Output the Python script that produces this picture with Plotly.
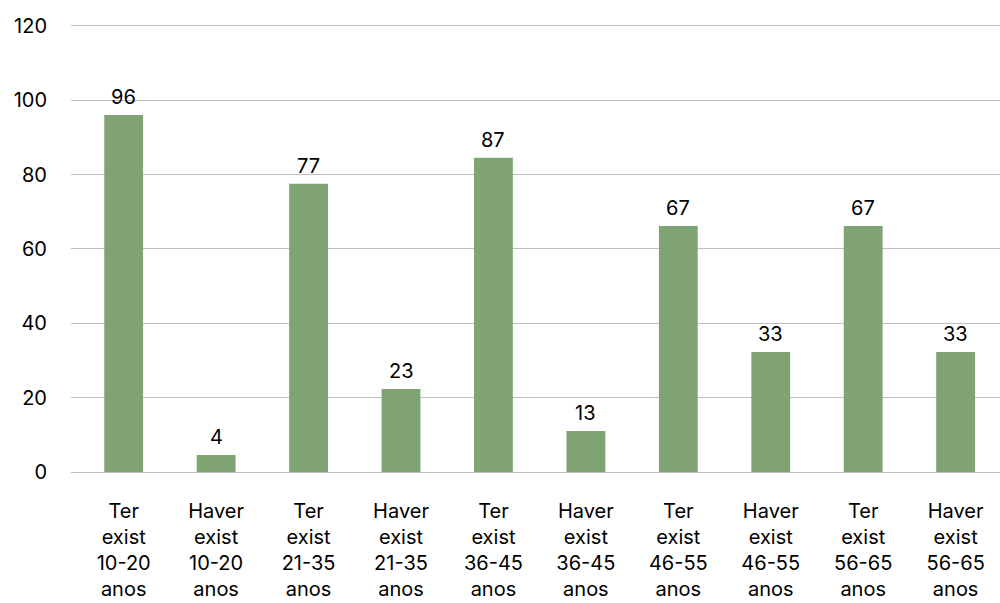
import plotly.graph_objects as go

categories = [
    "Ter<br>exist<br>10-20<br>anos", "Haver<br>exist<br>10-20<br>anos",
    "Ter<br>exist<br>21-35<br>anos", "Haver<br>exist<br>21-35<br>anos",
    "Ter<br>exist<br>36-45<br>anos", "Haver<br>exist<br>36-45<br>anos",
    "Ter<br>exist<br>46-55<br>anos", "Haver<br>exist<br>46-55<br>anos",
    "Ter<br>exist<br>56-65<br>anos", "Haver<br>exist<br>56-65<br>anos",
]
bar_values = [96.0, 4.6, 77.5, 22.3, 84.5, 11.0, 66.2, 32.3, 66.2, 32.3]
value_labels = ["96", "4", "77", "23", "87", "13", "67", "33", "67", "33"]
y_ticks = [0, 20, 40, 60, 80, 100, 120]

FONT = "Inter"
x_idx = list(range(len(categories)))

fig = go.Figure()
fig.add_trace(go.Bar(
    x=x_idx, y=bar_values, width=0.42,
    marker=dict(color="#7fa373", line=dict(width=0)),
    hoverinfo="skip",
))
for xi, v, lab in zip(x_idx, bar_values, value_labels):
    fig.add_annotation(x=xi, y=v, text=lab, showarrow=False,
                       yanchor="bottom", yshift=4,
                       font=dict(family=FONT, size=20, color="#000000"))

fig.update_layout(
    width=1000, height=603,
    margin=dict(l=71, r=0, t=24, b=131),
    paper_bgcolor="white", plot_bgcolor="white",
    showlegend=False,
    font=dict(family=FONT, size=20, color="#000000"),
    xaxis=dict(
        range=[-0.57, 9.48],
        tickmode="array", tickvals=x_idx, ticktext=categories,
        showgrid=False, zeroline=False, showline=False,
        ticks="", ticklabelstandoff=25, automargin=False,
        tickfont=dict(family=FONT, size=20, color="#000000"),
    ),
    yaxis=dict(
        range=[0, 120.5],
        tickmode="array", tickvals=y_ticks,
        showgrid=True, gridcolor="#bfbfbf", gridwidth=1,
        zeroline=True, zerolinecolor="#bfbfbf", zerolinewidth=1,
        showline=False, ticks="", ticklabelstandoff=23, automargin=False,
        tickfont=dict(family=FONT, size=20, color="#000000"),
    ),
)

fig.write_html("out.html")
